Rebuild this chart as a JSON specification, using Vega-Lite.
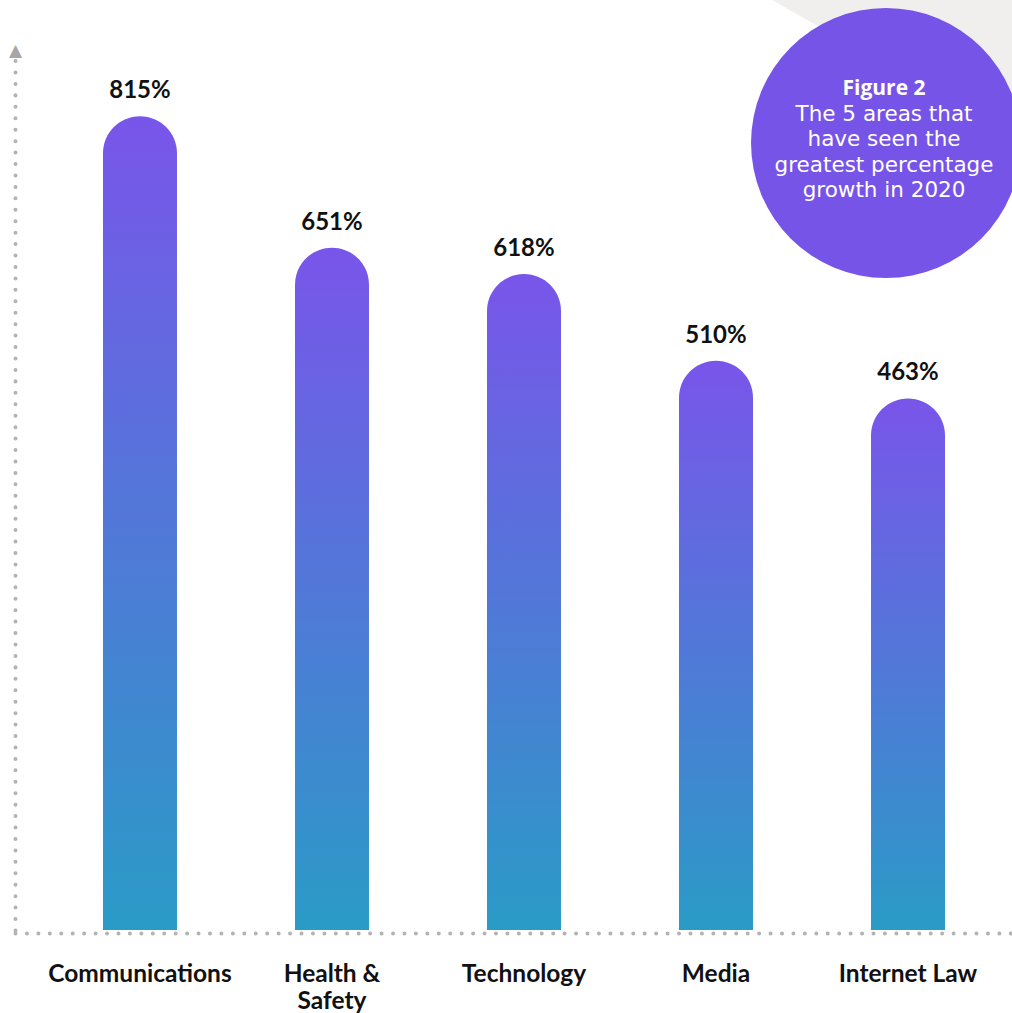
{
  "$schema": "https://vega.github.io/schema/vega-lite/v6.json",
  "width": 997,
  "height": 933,
  "autosize": "none",
  "padding": {"left": 15, "top": 0, "right": 0, "bottom": 80},
  "background": "#ffffff",
  "config": {"view": {"stroke": null}},
  "data": {"values": [
    {"area": "Communications", "growth": 815},
    {"area": "Health & Safety", "growth": 651},
    {"area": "Technology", "growth": 618},
    {"area": "Media", "growth": 510},
    {"area": "Internet Law", "growth": 463}
  ]},
  "encoding": {
    "x": {
      "field": "area", "type": "nominal", "sort": null,
      "scale": {"domain": ["Communications", "Health & Safety", "Technology", "Media", "Internet Law"], "paddingInner": 0.6146, "paddingOuter": 0.4036, "align": 0.5677},
      "axis": {
        "title": null, "labelAngle": 0, "ticks": false, "labelLimit": 400,
        "domainColor": "#b3b3b3", "domainWidth": 4, "domainDash": [0.01, 11.43], "domainCap": "round",
        "labelFont": "Lato", "labelFontSize": 24.5, "labelFontWeight": "bold", "labelColor": "#111111",
        "labelPadding": 29, "labelLineHeight": 27,
        "labelExpr": "datum.label == 'Health & Safety' ? ['Health &', 'Safety'] : datum.label"
      }
    }
  },
  "layer": [
    {
      "data": {"values": [{"shape": "page corner"}]},
      "mark": {"type": "point", "shape": "square", "filled": true, "opacity": 1, "size": 640000, "angle": 29.7, "color": "#f0efee", "strokeWidth": 0},
      "encoding": {
        "x": {"datum": "Internet Law", "bandPosition": 3.7},
        "y": {"datum": 1269}
      }
    },
    {
      "data": {"values": [{"shape": "badge"}]},
      "mark": {"type": "circle", "opacity": 1, "size": 72900, "color": "#7754e8"},
      "encoding": {
        "x": {"datum": "Internet Law", "bandPosition": 0.203},
        "y": {"datum": 781.5}
      }
    },
    {
      "mark": {
        "type": "bar", "cornerRadiusTopLeft": 37, "cornerRadiusTopRight": 37,
        "color": {"gradient": "linear", "x1": 0, "y1": 0, "x2": 0, "y2": 1,
          "stops": [{"offset": 0, "color": "#7955ea"}, {"offset": 1, "color": "#2a9bc6"}]}
      },
      "encoding": {
        "y": {
          "field": "growth", "type": "quantitative",
          "scale": {"domain": [-200, 885], "range": [930, 60], "nice": false, "zero": false},
          "axis": {
            "title": "▲", "titleAngle": 0, "titleX": 0, "titleY": 50, "titleAlign": "center", "titleBaseline": "middle",
            "titleFont": "DejaVu Sans", "titleFontSize": 17, "titleColor": "#a9a6a6", "titleFontWeight": "normal",
            "labels": false, "ticks": false, "grid": false,
            "domainColor": "#b3b3b3", "domainWidth": 4, "domainDash": [0.01, 11.43], "domainCap": "round"
          }
        },
        "y2": {"datum": -200}
      }
    },
    {
      "transform": [{"calculate": "datum.growth + '%'", "as": "label"}],
      "mark": {"type": "text", "font": "Lato", "fontSize": 24, "fontWeight": "bold", "color": "#111111", "baseline": "alphabetic", "dy": -18},
      "encoding": {
        "y": {"field": "growth", "type": "quantitative"},
        "text": {"field": "label"}
      }
    },
    {
      "data": {"values": [{"caption": "Figure 2"}]},
      "mark": {"type": "text", "font": "Open Sans", "fontSize": 21, "fontWeight": "bold", "color": "#ffffff", "baseline": "alphabetic", "align": "center"},
      "encoding": {
        "x": {"datum": "Internet Law", "bandPosition": 0.176},
        "y": {"datum": 841.4},
        "text": {"field": "caption"}
      }
    },
    {
      "data": {"values": [{"caption": "The 5 areas that|have seen the|greatest percentage|growth in 2020"}]},
      "mark": {"type": "text", "font": "DejaVu Sans", "fontSize": 21.5, "fontWeight": "normal", "color": "#ffffff", "baseline": "alphabetic", "align": "center", "lineBreak": "|", "lineHeight": 25.5},
      "encoding": {
        "x": {"datum": "Internet Law", "bandPosition": 0.176},
        "y": {"datum": 809.4},
        "text": {"field": "caption"}
      }
    }
  ]
}
